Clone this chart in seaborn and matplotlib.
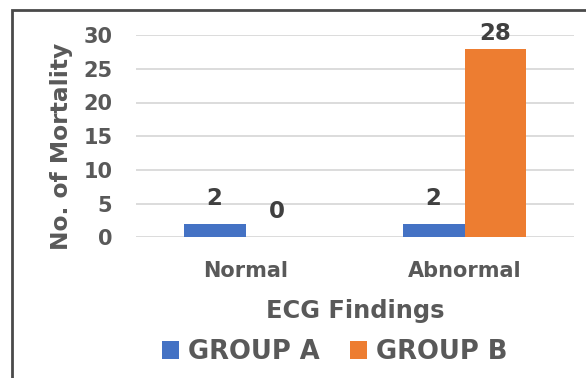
import matplotlib
matplotlib.use("Agg")
import matplotlib.pyplot as plt
from matplotlib.patches import Rectangle, Patch
import pandas as pd
import seaborn as sns

# Mortality counts by ECG finding for each study group
findings = ["Normal", "Abnormal"]
groups = ["GROUP A", "GROUP B"]
group_a = [2, 2]
group_b = [0, 28]
y_ticks = [0, 5, 10, 15, 20, 25, 30]

colors = {"GROUP A": "#4472C4", "GROUP B": "#ED7D31"}
tick_color = "#595959"
value_color = "#404040"

df = pd.DataFrame({
    "finding": findings * 2,
    "group": [groups[0]] * len(findings) + [groups[1]] * len(findings),
    "count": group_a + group_b,
})

sns.set_theme(style="white")
plt.rcParams["font.family"] = ["DejaVu Sans"]
plt.rcParams["font.weight"] = "bold"

fig = plt.figure(figsize=(5.86, 3.78), dpi=100)
ax = fig.add_axes([136 / 586, 1 - 237.5 / 378, 438 / 586, 202.5 / 378])

sns.barplot(data=df, x="finding", y="count", hue="group", order=findings,
            hue_order=groups, palette=colors, saturation=1, width=0.566,
            gap=0, errorbar=None, legend=False, linewidth=0, ax=ax, zorder=3)

ax.set_ylim(0, 30)
ax.set_xlim(-0.5, 1.5)
ax.set_yticks(y_ticks)
ax.set_yticklabels([str(t) for t in y_ticks], fontsize=15, fontweight="bold",
                   color=tick_color)
ax.set_xticks(range(len(findings)))
ax.set_xticklabels(findings, fontsize=15, fontweight="bold", color=tick_color)
ax.tick_params(axis="y", length=0, pad=17)
ax.tick_params(axis="x", length=0, pad=17)
ax.set_xlabel("")
ax.set_ylabel("")
ax.yaxis.grid(True, color="#d9d9d9", linewidth=1.3)
ax.xaxis.grid(False)
ax.set_axisbelow(True)
for s in ax.spines.values():
    s.set_visible(False)

# value labels above each bar
for container, vals in zip(ax.containers, [group_a, group_b]):
    for bar, v in zip(container, vals):
        pad = 6 if v > 25 else 14
        ax.annotate(str(v), (bar.get_x() + bar.get_width() / 2, v),
                    xytext=(0, pad), textcoords="offset points",
                    ha="center", va="baseline", fontsize=16.5,
                    fontweight="bold", color=value_color, clip_on=False)

fig.text(61.5 / 586, 1 - 146.5 / 378, "No. of Mortality", rotation=90,
         ha="center", va="center", fontsize=16.8, fontweight="bold",
         color=tick_color)
fig.text(355 / 586, 1 - 311 / 378, "ECG Findings", ha="center", va="center",
         fontsize=17.4, fontweight="bold", color=tick_color)

handles = [Patch(facecolor=colors[g], edgecolor="none", label=g) for g in groups]
leg = fig.legend(handles=handles, loc="center", ncol=2, frameon=False,
                 bbox_to_anchor=(334.5 / 586, 1 - 352 / 378),
                 prop={"size": 18.5, "weight": "bold"},
                 handlelength=0.66, handleheight=0.66, handletextpad=0.35,
                 columnspacing=1.2)
for t in leg.get_texts():
    t.set_color(tick_color)

# outer chart frame
fig.patches.append(Rectangle((11.5 / 586, -0.2), 1.0, 1.2 - 9.5 / 378,
                             transform=fig.transFigure, fill=False,
                             edgecolor="#4a4a4a", linewidth=2.0))

fig.savefig("out.png", dpi=100)
